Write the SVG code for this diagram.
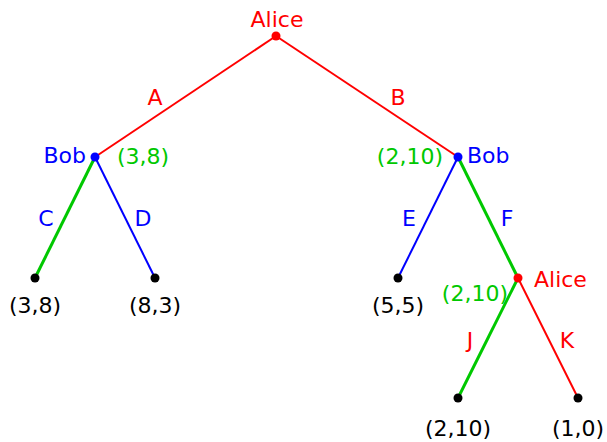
<svg xmlns="http://www.w3.org/2000/svg" width="607" height="442" viewBox="0 0 607 442">
<style>
text{font-family:"DejaVu Sans","Liberation Sans",sans-serif;font-size:22px}
.r{fill:#ff0000}.b{fill:#0000ff}.g{fill:#00c800}.k{fill:#000}
.er{stroke:#ff0000;stroke-width:2;fill:none}
.eb{stroke:#0000ff;stroke-width:2;fill:none}
.eg{stroke:#00c800;stroke-width:3;fill:none}
</style>
<rect width="607" height="442" fill="#fff"/>
<g id="connectors">
<line class="er" x1="276" y1="36" x2="95" y2="157"/>
<line class="er" x1="276" y1="36" x2="458" y2="157"/>
<line class="eg" x1="95" y1="157" x2="35" y2="278"/>
<line class="eb" x1="95" y1="157" x2="155" y2="278"/>
<line class="eb" x1="458" y1="157" x2="398" y2="278"/>
<line class="eg" x1="458" y1="157" x2="518" y2="278"/>
<line class="eg" x1="518" y1="278" x2="458" y2="398"/>
<line class="er" x1="518" y1="278" x2="578" y2="398"/>
<text class="r" x="155" y="105" text-anchor="middle">A</text>
<text class="r" x="398" y="105" text-anchor="middle">B</text>
<text class="b" x="46" y="226" text-anchor="middle">C</text>
<text class="b" x="143" y="226" text-anchor="middle">D</text>
<text class="b" x="409" y="226" text-anchor="middle">E</text>
<text class="b" x="507" y="226" text-anchor="middle">F</text>
<text class="r" x="470" y="348" text-anchor="middle">J</text>
<text class="r" x="567" y="348" text-anchor="middle">K</text>
</g>
<g id="n-root">
<circle class="r" cx="276" cy="36" r="4.5"/>
<text class="r" x="277" y="27" text-anchor="middle">Alice</text>
</g>
<g id="n-bob-left">
<circle class="b" cx="95" cy="157" r="4.5"/>
<text class="b" x="86" y="163" text-anchor="end">Bob</text>
<text class="g" x="117" y="164">(3,8)</text>
</g>
<g id="n-bob-right">
<circle class="b" cx="458" cy="157" r="4.5"/>
<text class="b" x="467" y="163">Bob</text>
<text class="g" x="443" y="164" text-anchor="end">(2,10)</text>
</g>
<g id="n-alice2">
<circle class="r" cx="518" cy="278" r="4.5"/>
<text class="r" x="534" y="287">Alice</text>
<text class="g" x="508" y="301" text-anchor="end">(2,10)</text>
</g>
<g id="leaf-1">
<circle class="k" cx="35" cy="278" r="4.5"/>
<text class="k" x="35" y="313" text-anchor="middle">(3,8)</text>
</g>
<g id="leaf-2">
<circle class="k" cx="155" cy="278" r="4.5"/>
<text class="k" x="155" y="313" text-anchor="middle">(8,3)</text>
</g>
<g id="leaf-3">
<circle class="k" cx="398" cy="278" r="4.5"/>
<text class="k" x="398" y="313" text-anchor="middle">(5,5)</text>
</g>
<g id="leaf-4">
<circle class="k" cx="458" cy="398" r="4.5"/>
<text class="k" x="458" y="436" text-anchor="middle">(2,10)</text>
</g>
<g id="leaf-5">
<circle class="k" cx="578" cy="398" r="4.5"/>
<text class="k" x="578" y="436" text-anchor="middle">(1,0)</text>
</g>
</svg>
